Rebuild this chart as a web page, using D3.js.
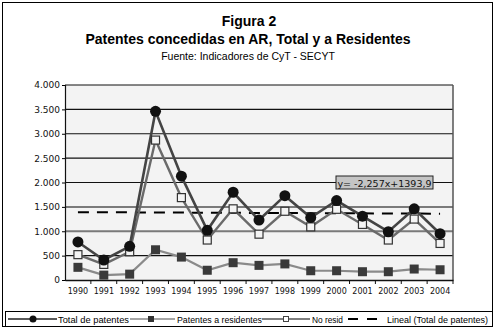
<!DOCTYPE html>
<html><head><meta charset="utf-8">
<script src="https://cdn.jsdelivr.net/npm/d3@7"></script>
<style>body{margin:0;background:#fff}svg{display:block}</style>
</head><body>
<svg id="c" width="496" height="330"></svg>
<script>
const years = ["1990","1991","1992","1993","1994","1995","1996","1997","1998","1999","2000","2001","2002","2003","2004"];
const totalPatentes = [780,410,690,3460,2130,1020,1800,1230,1730,1280,1630,1310,990,1460,950];
const residentes = [260,100,120,620,470,200,355,300,330,190,190,170,170,225,210];
const noResid = [520,320,580,2870,1690,820,1460,940,1410,1090,1450,1140,820,1250,750];
const trendSlope = -2.257, trendIntercept = 1393.9;
const yTicks = [0,500,1000,1500,2000,2500,3000,3500,4000];
const titleLines = ["Figura 2","Patentes concedidas en AR, Total y a Residentes"];
const subtitle = "Fuente: Indicadores de CyT - SECYT";
const trendLabel = "y= -2,257x+1393,9";
const legendLabels = ["Total de patentes","Patentes a residentes","No resid","Lineal (Total de patentes)"];

const svg = d3.select("#c");
const fmt = v => d3.format(",")(v).replace(/,/g,".");
const L=65,R=453,T=85,B=280;
const x = d3.scaleBand().domain(years).range([L,R]);
const cx = d => x(d)+x.bandwidth()/2;
const y = d3.scaleLinear().domain([0,4000]).range([B,T]);

// outer frame
svg.append("rect").attr("x",2.5).attr("y",2.5).attr("width",490).attr("height",324).attr("fill","#fff").attr("stroke","#000");

// titles
svg.append("text").attr("x",249).attr("y",26).attr("text-anchor","middle").attr("font-family","Liberation Sans, Arial").attr("font-weight","bold").attr("font-size",14).text(titleLines[0]);
svg.append("text").attr("x",248).attr("y",44).attr("text-anchor","middle").attr("font-family","Liberation Sans, Arial").attr("font-weight","bold").attr("font-size",14).text(titleLines[1]);
svg.append("text").attr("x",248).attr("y",60).attr("text-anchor","middle").attr("font-family","Liberation Sans, Arial").attr("font-size",10.5).text(subtitle);

// plot bg
svg.append("rect").attr("x",L).attr("y",T).attr("width",R-L).attr("height",B-T).attr("fill","#f3f3f3");

// gridlines
svg.append("g").selectAll("line").data(yTicks.filter(v=>v>0)).join("line")
  .attr("x1",L).attr("x2",R).attr("y1",d=>y(d)).attr("y2",d=>y(d))
  .attr("stroke",d=>(d===1000||d===1500)?"#7a7a7a":"#111")
  .attr("stroke-width",d=>(d===1000||d===1500)?2:1.2);
svg.append("line").attr("x1",R).attr("x2",R).attr("y1",T).attr("y2",B).attr("stroke","#555").attr("stroke-width",1.5);

// axes
const ya = svg.append("g").attr("transform",`translate(${L},0)`)
  .call(d3.axisLeft(y).tickValues(yTicks).tickFormat(fmt).tickSize(3).tickPadding(2));
ya.selectAll("text").attr("font-family","DejaVu Sans, Verdana").attr("font-size",9).attr("fill","#111");
ya.select(".domain").attr("stroke","#111").attr("stroke-width",1.2);
const xa = svg.append("g").attr("transform",`translate(0,${B})`)
  .call(d3.axisBottom(x).tickSize(0).tickPadding(8));
xa.selectAll("text").attr("font-family","DejaVu Sans, Verdana").attr("font-size",8).attr("fill","#111");
xa.select(".domain").attr("stroke","#111").attr("stroke-width",1.5);
svg.append("g").selectAll("line").data(years.slice(1)).join("line")
  .attr("x1",d=>x(d)).attr("x2",d=>x(d)).attr("y1",B).attr("y2",B+4).attr("stroke","#111");
svg.append("line").attr("x1",R).attr("x2",R).attr("y1",B).attr("y2",B+4).attr("stroke","#111");

// trend line
const trend = years.map((d,i)=>trendSlope*(i+1)+trendIntercept);
svg.append("line").attr("x1",cx(years[0])).attr("x2",cx(years[years.length-1]))
  .attr("y1",y(trend[0])).attr("y2",y(trend[trend.length-1]))
  .attr("stroke","#000").attr("stroke-width",2).attr("stroke-dasharray","11,8");

const line = d3.line().x((d,i)=>cx(years[i])).y(d=>y(d));
// residents
svg.append("path").attr("d",line(residentes)).attr("fill","none").attr("stroke","#8a8a8a").attr("stroke-width",2.2);
svg.append("g").selectAll("rect").data(residentes).join("rect")
  .attr("x",(d,i)=>cx(years[i])-4.5).attr("y",d=>y(d)-4.5).attr("width",9).attr("height",9).attr("fill","#3a3a3a");
// no resid
svg.append("path").attr("d",line(noResid)).attr("fill","none").attr("stroke","#6a6a6a").attr("stroke-width",2.4);
// total
svg.append("path").attr("d",line(totalPatentes)).attr("fill","none").attr("stroke","#444").attr("stroke-width",2.6);
svg.append("g").selectAll("rect").data(noResid).join("rect")
  .attr("x",(d,i)=>cx(years[i])-4).attr("y",d=>y(d)-4).attr("width",8).attr("height",8).attr("fill","#f4f4f4").attr("stroke","#333").attr("stroke-width",1.2);
svg.append("g").selectAll("circle").data(totalPatentes).join("circle")
  .attr("cx",(d,i)=>cx(years[i])).attr("cy",d=>y(d)).attr("r",5.5).attr("fill","#111");

// trend label
const lg = svg.append("g");
lg.append("rect").attr("x",336).attr("y",176).attr("width",97).attr("height",13).attr("fill","#c4c4c4").attr("stroke","#222");
lg.append("text").attr("x",384.5).attr("y",186.5).attr("text-anchor","middle").attr("font-family","DejaVu Sans, Verdana").attr("font-size",9.5).attr("fill","#111").text(trendLabel);

// legend
const leg = svg.append("g");
leg.append("rect").attr("x",5.5).attr("y",311.5).attr("width",487).attr("height",15).attr("fill","#fff").attr("stroke","#000");
const ly = 319;
const tf = {"font-family":"Liberation Sans, Arial","font-size":8.8};
leg.append("line").attr("x1",8).attr("x2",57).attr("y1",ly).attr("y2",ly).attr("stroke","#222").attr("stroke-width",1.5);
leg.append("circle").attr("cx",33).attr("cy",ly).attr("r",3.5).attr("fill","#111");
leg.append("line").attr("x1",130).attr("x2",175).attr("y1",ly).attr("y2",ly).attr("stroke","#888").attr("stroke-width",1.5);
leg.append("rect").attr("x",148).attr("y",ly-3).attr("width",6).attr("height",6).attr("fill","#333");
leg.append("line").attr("x1",262).attr("x2",310).attr("y1",ly).attr("y2",ly).attr("stroke","#555").attr("stroke-width",1.5);
leg.append("rect").attr("x",283.5).attr("y",ly-2.5).attr("width",5).attr("height",5).attr("fill","#fff").attr("stroke","#444");
leg.append("line").attr("x1",348).attr("x2",378).attr("y1",ly).attr("y2",ly).attr("stroke","#000").attr("stroke-width",1.8).attr("stroke-dasharray","10,9");
const lx = [58,177,312,387], lw = [71,85,31,101];
legendLabels.forEach((t,i)=>{
  const e = leg.append("text").attr("x",lx[i]).attr("y",ly+3.5).attr("textLength",lw[i]).attr("lengthAdjust","spacingAndGlyphs").text(t);
  Object.entries(tf).forEach(([k,v])=>e.attr(k,v));
});
</script>
</body></html>
